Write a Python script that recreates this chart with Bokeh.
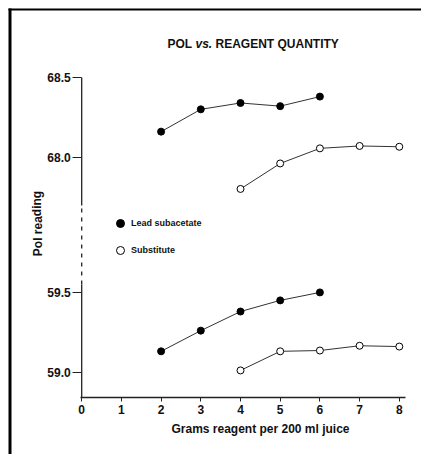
from bokeh.plotting import figure
from bokeh.models import FixedTicker, Label, Legend, LegendItem, Range1d, LinearAxis
from bokeh.embed import file_html
from bokeh.resources import INLINE

# ---- data ----
x_lead = [2, 3, 4, 5, 6]
x_sub = [4, 5, 6, 7, 8]
lead_upper = [68.16, 68.30, 68.34, 68.32, 68.38]
sub_upper = [67.80, 67.96, 68.055, 68.07, 68.065]
lead_lower = [59.13, 59.26, 59.38, 59.45, 59.50]
sub_lower = [59.01, 59.13, 59.135, 59.165, 59.16]
x_ticks = [0, 1, 2, 3, 4, 5, 6, 7, 8]
y_tick_values = [59.0, 59.5, 68.0, 68.5]
y_tick_labels = ["59.0", "59.5", "68.0", "68.5"]

# broken-axis transform: lower block 59.0-59.5, upper block 68.0-68.5
LOW_BASE = 59.0
HIGH_BASE = 68.0
HIGH_OFFSET = 1.35


def to_plot(v):
    return v - HIGH_BASE + HIGH_OFFSET if v >= 65 else v - LOW_BASE


FONT = "Liberation Sans"
W, H = 421, 454
ORIGIN = 0       # page position of the canvas' top-left corner
PX_X = 39.7      # pixels per x unit
PX_Y = 159.2     # pixels per plot-y unit
X0 = 0 - (81.2 - ORIGIN) / PX_X
X1 = X0 + W / PX_X
Y1 = 1.85 + (77 - ORIGIN) / PX_Y
Y0 = Y1 - H / PX_Y
X_AXIS_Y = -0.16


def dx(page_x):
    return X0 + (page_x - ORIGIN) / PX_X


def dy(page_y):
    return Y1 - (page_y - ORIGIN) / PX_Y


p = figure(width=W, height=H, output_backend="svg", toolbar_location=None,
           x_range=Range1d(X0, X1), y_range=Range1d(Y0, Y1),
           x_axis_type=None, y_axis_type=None,
           min_border=0, min_border_left=0, min_border_right=0,
           min_border_top=0, min_border_bottom=0)
p.outline_line_color = None
p.background_fill_color = "white"
p.border_fill_color = "white"

# x axis
xaxis = LinearAxis(fixed_location=X_AXIS_Y, ticker=FixedTicker(ticks=x_ticks),
                   bounds=(dx(80), dx(405)))
xaxis.axis_line_color = "#222222"
xaxis.axis_line_width = 1.3
xaxis.major_tick_out = 4
xaxis.major_tick_in = 0
xaxis.minor_tick_line_color = None
xaxis.major_tick_line_color = "#222222"
xaxis.major_label_standoff = 4
xaxis.major_label_text_font = FONT
xaxis.major_label_text_font_style = "bold"
xaxis.major_label_text_font_size = "12px"
xaxis.major_label_text_color = "#111111"
p.add_layout(xaxis, "below")

# y axis (ticks and labels; line drawn as broken segments)
yt = [to_plot(v) for v in y_tick_values]
yaxis = LinearAxis(fixed_location=0, ticker=FixedTicker(ticks=yt))
yaxis.major_label_overrides = {t: lab for t, lab in zip(yt, y_tick_labels)}
yaxis.axis_line_color = None
yaxis.major_tick_out = 9
yaxis.major_tick_in = 0
yaxis.minor_tick_line_color = None
yaxis.major_tick_line_color = "#222222"
yaxis.major_label_standoff = 2
yaxis.major_label_text_font = FONT
yaxis.major_label_text_font_style = "bold"
yaxis.major_label_text_font_size = "12px"
yaxis.major_label_text_color = "#111111"
p.add_layout(yaxis, "left")

# broken y axis line
BREAK_TOP = 1.046
BREAK_BOTTOM = 0.55
p.segment(x0=[0, 0], y0=[X_AXIS_Y, BREAK_TOP], x1=[0, 0], y1=[BREAK_BOTTOM, 1.85],
          line_color="#222222", line_width=1.3)
p.segment(x0=[0], y0=[BREAK_BOTTOM], x1=[0], y1=[BREAK_TOP],
          line_color="#222222", line_width=1.3, line_dash="4 5")

# outer frame (top and left edges of the original figure box)
p.segment(x0=[dx(9.5), dx(8)], y0=[Y0, dy(9)], x1=[dx(9.5), X1], y1=[dy(8), dy(9)],
          line_color="black", line_width=[3, 2])

LINE_C = "#333333"
series = [
    (x_lead, lead_upper, True),
    (x_sub, sub_upper, False),
    (x_lead, lead_lower, True),
    (x_sub, sub_lower, False),
]
rend = {}
for xs, vals, filled in series:
    ys = [to_plot(v) for v in vals]
    p.line(xs, ys, line_color=LINE_C, line_width=1)
    r = p.scatter(xs, ys, marker="circle", size=7,
                  fill_color="black" if filled else "white",
                  line_color="black", line_width=1)
    rend[filled] = r

# legend (location measured from the frame's bottom-left corner)
legend = Legend(items=[LegendItem(label="Lead subacetate", renderers=[rend[True]]),
                       LegendItem(label="Substitute", renderers=[rend[False]])],
                location=(120 - ORIGIN - 10, H - (250 - ORIGIN) - 10),
                padding=0, margin=0, spacing=7,
                glyph_width=20, glyph_height=20, label_height=20,
                label_standoff=1, border_line_color=None,
                background_fill_alpha=0,
                label_text_font=FONT, label_text_font_style="bold",
                label_text_font_size="9px", label_text_color="#111111")
p.add_layout(legend, "center")

# title with italic "vs."
ty = dy(43)
common = dict(text_font=FONT, text_font_size="12px", text_color="#111111",
              text_baseline="middle", text_align="left")
p.add_layout(Label(x=dx(167), y=ty, text="POL", text_font_style="bold", **common))
p.add_layout(Label(x=dx(195), y=ty, text="vs.", text_font_style="bold italic", **common))
p.add_layout(Label(x=dx(215), y=ty, text="REAGENT QUANTITY", text_font_style="bold", **common))

# axis titles
p.add_layout(Label(x=dx(260), y=dy(428), text="Grams reagent per 200 ml juice",
                   text_font=FONT, text_font_size="12px", text_font_style="bold",
                   text_color="#111111", text_align="center", text_baseline="middle"))
p.add_layout(Label(x=dx(37), y=dy(223), text="Pol reading", angle=1.5708,
                   text_font=FONT, text_font_size="12px", text_font_style="bold",
                   text_color="#111111", text_align="center", text_baseline="middle"))

open("out.html", "w").write(file_html(p, INLINE))
